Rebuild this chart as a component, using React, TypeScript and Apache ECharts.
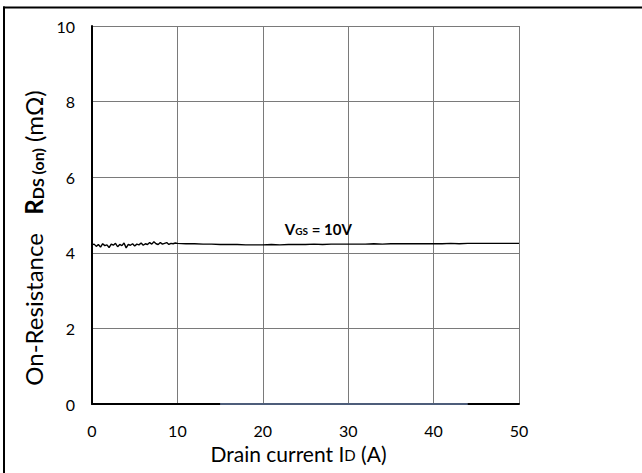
import React, { useEffect, useRef } from "react";
import * as echarts from "echarts";

const xTicks = [0, 10, 20, 30, 40, 50];
const yTicks = [0, 2, 4, 6, 8, 10];

const drainCurrent = [
  0, 0.25, 0.5, 0.75, 1, 1.25, 1.5, 1.75, 2, 2.25, 2.5, 2.75, 3, 3.25, 3.5, 3.75, 4, 4.25, 4.5, 4.75,
  5, 5.25, 5.5, 5.75, 6, 6.25, 6.5, 6.75, 7, 7.25, 7.5, 7.75, 8, 8.25, 8.5, 8.75, 9, 9.25, 9.5, 9.75, 10,
  11, 12, 13, 14, 15, 16, 17, 18, 19, 20, 21, 22, 23, 24, 25, 26, 27, 28, 29, 30,
  31, 32, 33, 34, 35, 36, 37, 38, 39, 40, 41, 42, 43, 44, 45, 46, 47, 48, 49, 50,
];

const rdsOn = [
  4.21, 4.23, 4.17, 4.22, 4.15, 4.24, 4.19, 4.21, 4.14, 4.23, 4.2, 4.25, 4.16, 4.22, 4.19, 4.26, 4.13, 4.22, 4.2, 4.24,
  4.18, 4.23, 4.21, 4.26, 4.2, 4.24, 4.22, 4.27, 4.23, 4.29, 4.24, 4.22, 4.27, 4.23, 4.25, 4.27, 4.22, 4.25, 4.24, 4.26, 4.25,
  4.24, 4.24, 4.23, 4.23, 4.22, 4.22, 4.22, 4.21, 4.21, 4.21, 4.22, 4.21, 4.22, 4.22, 4.22, 4.23, 4.22, 4.23, 4.23, 4.23,
  4.23, 4.23, 4.24, 4.23, 4.24, 4.24, 4.24, 4.24, 4.24, 4.24, 4.24, 4.25, 4.24, 4.25, 4.25, 4.25, 4.25, 4.25, 4.25, 4.25,
];

// faint trace lying on the x axis
const baseCurrent = [15, 44];
const baseValue = [0, 0];

const labelPos = [26.5, 4.62];
const seriesLabel = { main: "V", sub: "GS", rest: " = 10V" };
const FONT = "Lato, 'Open Sans', sans-serif";

export default function App() {
  const ref = useRef<HTMLDivElement>(null);
  useEffect(() => {
    if (!ref.current) return;
    const chart = echarts.init(ref.current, null, { renderer: "svg" });
    const data = drainCurrent.map((x, i) => [x, rdsOn[i]]);
    const baseData = baseCurrent.map((x, i) => [x, baseValue[i]]);
    chart.setOption({
      animation: false,
      backgroundColor: "#ffffff",
      grid: { left: 92, right: 123, top: 26, bottom: 69, containLabel: false },
      xAxis: {
        type: "value",
        min: xTicks[0],
        max: xTicks[xTicks.length - 1],
        interval: 10,
        name: "{n|Drain current I}{s|D}{n| (A)}",
        nameLocation: "middle",
        nameGap: 33,
        nameTextStyle: {
          fontFamily: FONT,
          fontSize: 21,
          color: "#000",
          padding: [0, 14, 0, 0],
          rich: {
            n: { fontFamily: FONT, fontSize: 21, color: "#000" },
            s: { fontFamily: FONT, fontSize: 15, color: "#000", padding: [3, 0, 0, 0] },
          },
        },
        axisLine: { show: true, onZero: false, lineStyle: { color: "#000", width: 2 } },
        axisTick: { show: false },
        axisLabel: { fontFamily: FONT, fontSize: 16, color: "#000", margin: 18 },
        splitLine: { show: true, lineStyle: { color: "#7a7a7a", width: 1 } },
      },
      yAxis: {
        type: "value",
        min: yTicks[0],
        max: yTicks[yTicks.length - 1],
        interval: 2,
        name: "{n|On-Resistance   }{b|R}{bs|DS (on)}{n| (mΩ)}",
        nameLocation: "middle",
        nameRotate: 90,
        nameGap: 35,
        nameTextStyle: {
          fontFamily: FONT,
          fontSize: 24,
          color: "#000",
          padding: [0, 46, 0, 0],
          rich: {
            n: { fontFamily: FONT, fontSize: 24, color: "#000" },
            b: { fontFamily: FONT, fontSize: 24, fontWeight: "bold", color: "#000" },
            bs: { fontFamily: FONT, fontSize: 16, fontWeight: "bold", color: "#000", padding: [9, 0, 0, 0] },
          },
        },
        axisLine: { show: true, lineStyle: { color: "#000", width: 2 } },
        axisTick: { show: false },
        axisLabel: { fontFamily: FONT, fontSize: 16, color: "#000", margin: 17 },
        splitLine: { show: true, lineStyle: { color: "#7a7a7a", width: 1 } },
      },
      graphic: [
        { type: "line", shape: { x1: 3, y1: 7.5, x2: 642, y2: 7.5 }, style: { stroke: "#000", lineWidth: 2 } },
        { type: "line", shape: { x1: 4, y1: 6.5, x2: 4, y2: 473 }, style: { stroke: "#000", lineWidth: 2 } },
      ],
      series: [
        {
          type: "line",
          data: baseData,
          symbol: "none",
          z: 1,
          lineStyle: { color: "#4d5d7a", width: 2 },
        },
        {
          type: "line",
          data,
          symbol: "none",
          lineStyle: { color: "#000", width: 1.4 },
          markPoint: {
            symbol: "circle",
            symbolSize: 0,
            itemStyle: { color: "transparent" },
            data: [
              {
                coord: labelPos,
                label: {
                  show: true,
                  position: "inside",
                  formatter: `{m|${seriesLabel.main}}{s|${seriesLabel.sub}}{m|${seriesLabel.rest}}`,
                  rich: {
                    m: { fontFamily: FONT, fontSize: 15, fontWeight: "bold", color: "#000" },
                    s: { fontFamily: FONT, fontSize: 10, fontWeight: "bold", color: "#000", padding: [3, 0, 0, 0] },
                  },
                },
              },
            ],
          },
        },
      ],
    });
    return () => chart.dispose();
  }, []);
  return (
    <div
      ref={ref}
      style={{ position: "fixed", left: 0, top: 0, width: 642, height: 473, background: "#fff" }}
    />
  );
}
